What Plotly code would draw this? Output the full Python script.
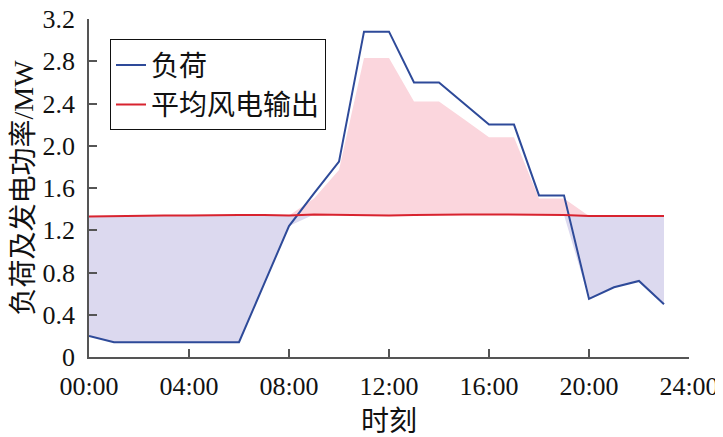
import numpy as np
import plotly.graph_objects as go

hours = list(range(24))
load = [0.20, 0.14, 0.14, 0.14, 0.14, 0.14, 0.14, 0.69, 1.24, 1.55, 1.85, 3.08,
        3.08, 2.60, 2.60, 2.40, 2.20, 2.20, 1.53, 1.53, 0.55, 0.66, 0.72, 0.50]
wind = [1.33, 1.335, 1.34, 1.34, 1.34, 1.345, 1.345, 1.345, 1.34, 1.35, 1.345, 1.34,
        1.34, 1.345, 1.35, 1.35, 1.35, 1.35, 1.345, 1.345, 1.335, 1.335, 1.34, 1.335]
served = [0.20, 0.14, 0.14, 0.14, 0.14, 0.14, 0.14, 0.69, 1.24, 1.50, 1.77, 2.83,
          2.83, 2.42, 2.42, 2.25, 2.08, 2.08, 1.50, 1.50, 0.55, 0.66, 0.72, 0.50]

x_ticks = [0, 4, 8, 12, 16, 20, 24]
x_labels = ["00:00", "04:00", "08:00", "12:00", "16:00", "20:00", "24:00"]
y_ticks = [0, 0.4, 0.8, 1.2, 1.6, 2.0, 2.4, 2.8, 3.2]
y_labels = ["0", "0.4", "0.8", "1.2", "1.6", "2.0", "2.4", "2.8", "3.2"]

w = np.array(wind)
low = np.minimum(np.array(load), w)
high = np.maximum(np.array(served), w)

SERIF = "Liberation Serif, Times New Roman, serif"
MIXED = "Liberation Serif, Times New Roman, Noto Sans CJK SC, serif"

fig = go.Figure()
fig.add_trace(go.Scatter(x=hours, y=wind, mode="lines", line=dict(width=0),
                         showlegend=False, hoverinfo="skip"))
fig.add_trace(go.Scatter(x=hours, y=low, mode="lines", line=dict(width=0),
                         fill="tonexty", fillcolor="#dcd9ef",
                         showlegend=False, hoverinfo="skip"))
fig.add_trace(go.Scatter(x=hours, y=wind, mode="lines", line=dict(width=0),
                         showlegend=False, hoverinfo="skip"))
fig.add_trace(go.Scatter(x=hours, y=high, mode="lines", line=dict(width=0),
                         fill="tonexty", fillcolor="#fbd6dd",
                         showlegend=False, hoverinfo="skip"))
fig.add_trace(go.Scatter(x=hours, y=load, mode="lines", name="负荷",
                         line=dict(color="#2e4a99", width=2)))
fig.add_trace(go.Scatter(x=hours, y=wind, mode="lines", name="平均风电输出",
                         line=dict(color="#d8232f", width=2)))

# page body has an 8px default margin, so the figure is 8px smaller
fig.update_layout(
    width=715, height=429,
    margin=dict(l=81, r=34, t=11, b=80),
    plot_bgcolor="white", paper_bgcolor="white",
    font=dict(family=MIXED, size=26, color="#111"),
    legend=dict(x=0.035, y=0.94, xanchor="left", yanchor="top",
                bordercolor="#111", borderwidth=1, bgcolor="white",
                font=dict(family=MIXED, size=28), traceorder="normal",
                itemwidth=30, tracegroupgap=0),
    xaxis=dict(range=[0, 24], tickvals=x_ticks, ticktext=x_labels,
               showgrid=False, zeroline=False, showline=True, automargin=False,
               linecolor="#555", linewidth=1.5, ticks="inside", ticklen=8,
               tickcolor="#555", tickwidth=1.5, ticklabelstandoff=5,
               ticklabeloverflow="allow",
               tickfont=dict(family=SERIF, size=26),
               title=dict(text="时刻", standoff=12, font=dict(family=MIXED, size=28))),
    yaxis=dict(range=[0, 3.2], tickvals=y_ticks, ticktext=y_labels,
               showgrid=False, zeroline=False, showline=True, automargin=False,
               linecolor="#555", linewidth=1.5, ticks="inside", ticklen=8,
               tickcolor="#555", tickwidth=1.5, ticklabelstandoff=7,
               ticklabeloverflow="allow",
               tickfont=dict(family=SERIF, size=26),
               title=dict(text="负荷及发电功率/MW", standoff=6,
                          font=dict(family=MIXED, size=28))),
)

fig.write_html("out.html")
